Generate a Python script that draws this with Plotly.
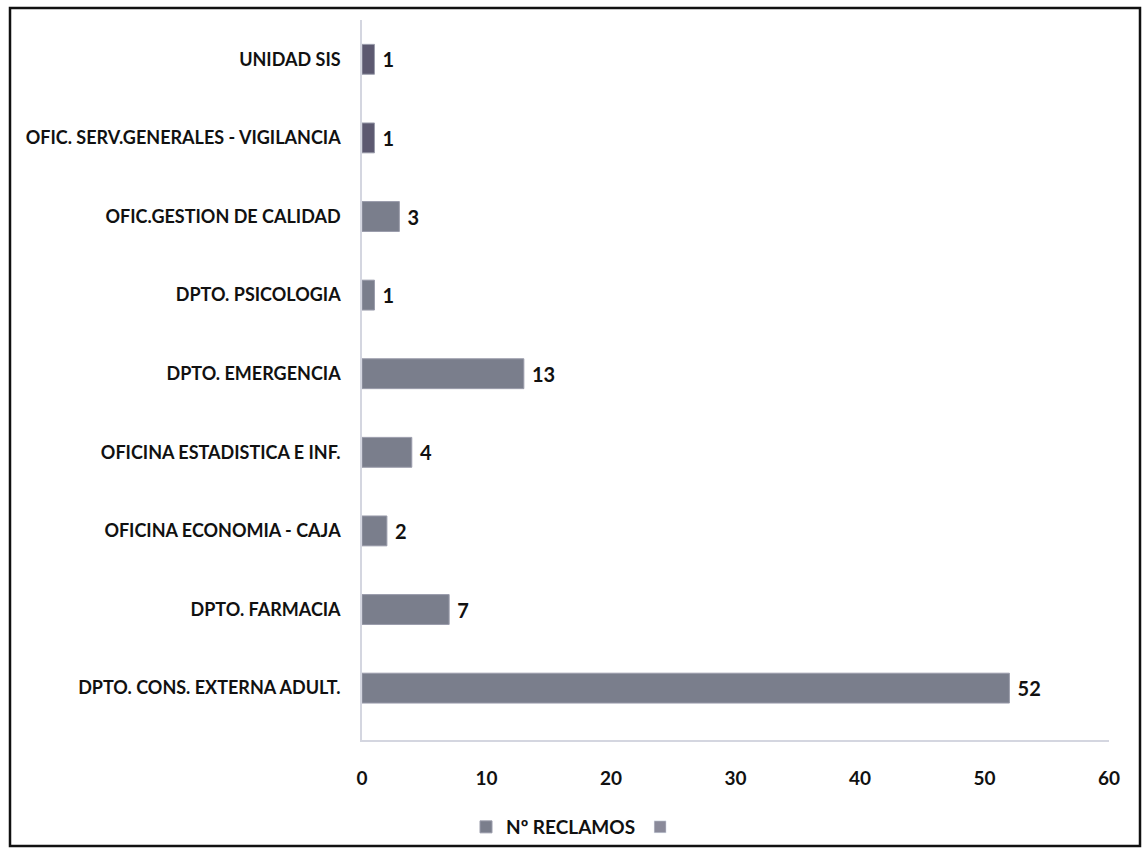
import plotly.graph_objects as go

categories = [
    "DPTO. CONS. EXTERNA ADULT.",
    "DPTO. FARMACIA",
    "OFICINA ECONOMIA - CAJA",
    "OFICINA ESTADISTICA E INF.",
    "DPTO. EMERGENCIA",
    "DPTO. PSICOLOGIA",
    "OFIC.GESTION DE CALIDAD",
    "OFIC. SERV.GENERALES - VIGILANCIA",
    "UNIDAD SIS",
]
reclamos = [52, 7, 2, 4, 13, 1, 3, 1, 1]
bar_colors = ["#7a7e8c"] * 7 + ["#5c5970", "#5c5970"]
x_ticks = [0, 10, 20, 30, 40, 50, 60]

W, H = 1142, 855
L, R, T, B = 362, 33, 20, 115
pw = W - L - R
ph = H - T - B

font = dict(family="Lato, 'Open Sans', sans-serif", size=18, color="#111111")

fig = go.Figure()
fig.add_trace(go.Bar(
    y=categories, x=reclamos, orientation="h",
    name="<b>Nº RECLAMOS</b>",
    marker=dict(color=bar_colors, line=dict(color="#9a9cab", width=1)),
    width=0.38,
    text=[f" <b>{v}</b>" for v in reclamos],
    textposition="outside", textfont=dict(size=20, color="#111111"),
    constraintext="none",
    cliponaxis=False,
))
# second (empty) legend key
fig.add_trace(go.Bar(
    y=[categories[0]], x=[None], orientation="h", name=" ",
    marker=dict(color="#8a8a9a"),
))

fig.update_layout(
    width=W, height=H,
    margin=dict(l=L, r=R, t=T, b=B),
    paper_bgcolor="white", plot_bgcolor="white",
    font=font,
    bargap=0.6,
    barmode="overlay",
    showlegend=True,
    legend=dict(orientation="h", xref="container", yref="container",
                x=578 / W, y=(H - 827) / H, xanchor="center", yanchor="middle",
                bgcolor="rgba(0,0,0,0)",
                font=dict(size=19), itemwidth=30, traceorder="normal"),
    xaxis=dict(range=[0, 60], tickvals=x_ticks,
               ticktext=[f"<b>{v}</b>" for v in x_ticks],
               showgrid=False, zeroline=False, showline=True,
               linecolor="#d4d6e0", linewidth=1.5, ticks="",
               ticklabelstandoff=20, tickfont=dict(size=19)),
    yaxis=dict(categoryorder="array", categoryarray=categories,
               range=[-0.66, 8.5],
               tickvals=categories,
               ticktext=[f"<b>{c}</b>" for c in categories],
               showgrid=False, zeroline=False, showline=True,
               linecolor="#d4d6e0", linewidth=1.5, ticks="",
               ticklabelstandoff=16, tickfont=dict(size=18)),
)

# chart frame
def px(xv):
    return (xv - L) / pw

def py(yv):
    return (H - B - yv) / ph

fig.add_shape(type="rect", xref="paper", yref="paper",
              x0=px(10), x1=px(1140), y0=py(846), y1=py(8),
              line=dict(color="#111111", width=2.5), fillcolor="rgba(0,0,0,0)",
              layer="below")

fig.write_html("out.html")
